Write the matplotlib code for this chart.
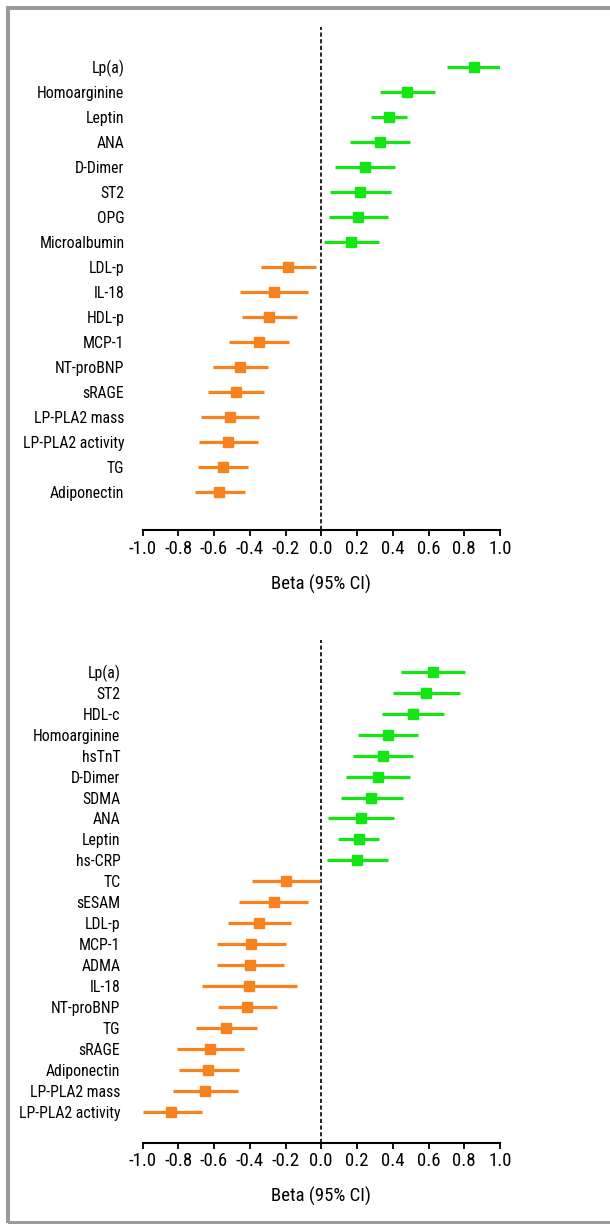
import matplotlib
matplotlib.use("Agg")
import matplotlib.pyplot as plt
from matplotlib.patches import Rectangle

plt.rcParams['font.family'] = ['Arial Narrow', 'Liberation Sans Narrow', 'Roboto Condensed',
                               'Archivo Narrow', 'PT Sans Narrow', 'Liberation Sans', 'DejaVu Sans']

GREEN = "#14e614"
ORANGE = "#f7821e"

# top panel
top_labels = ["Lp(a)", "Homoarginine", "Leptin", "ANA", "D-Dimer", "ST2", "OPG",
              "Microalbumin", "LDL-p", "IL-18", "HDL-p", "MCP-1", "NT-proBNP",
              "sRAGE", "LP-PLA2 mass", "LP-PLA2 activity", "TG", "Adiponectin"]
top_beta = [0.856, 0.479, 0.377, 0.328, 0.243, 0.218, 0.205, 0.164, -0.186, -0.263,
            -0.291, -0.351, -0.452, -0.479, -0.511, -0.519, -0.550, -0.571]
top_lo = [0.703, 0.330, 0.278, 0.159, 0.075, 0.049, 0.041, 0.013, -0.339, -0.453,
          -0.446, -0.515, -0.604, -0.634, -0.675, -0.683, -0.692, -0.709]
top_hi = [1.013, 0.634, 0.479, 0.498, 0.412, 0.392, 0.373, 0.321, -0.032, -0.074,
          -0.138, -0.183, -0.297, -0.319, -0.347, -0.354, -0.408, -0.427]

# bottom panel
bot_labels = ["Lp(a)", "ST2", "HDL-c", "Homoarginine", "hsTnT", "D-Dimer", "SDMA",
              "ANA", "Leptin", "hs-CRP", "TC", "sESAM", "LDL-p", "MCP-1", "ADMA",
              "IL-18", "NT-proBNP", "TG", "sRAGE", "Adiponectin", "LP-PLA2 mass",
              "LP-PLA2 activity"]
bot_beta = [0.625, 0.588, 0.513, 0.375, 0.343, 0.315, 0.280, 0.220, 0.209, 0.202,
            -0.198, -0.267, -0.347, -0.392, -0.398, -0.403, -0.416, -0.534, -0.622,
            -0.631, -0.650, -0.839]
bot_lo = [0.448, 0.399, 0.338, 0.207, 0.177, 0.136, 0.108, 0.037, 0.095, 0.034,
          -0.387, -0.459, -0.523, -0.583, -0.583, -0.668, -0.579, -0.702, -0.807,
          -0.796, -0.831, -0.999]
bot_hi = [0.806, 0.778, 0.689, 0.543, 0.511, 0.498, 0.455, 0.407, 0.323, 0.371,
          -0.006, -0.075, -0.168, -0.200, -0.209, -0.134, -0.250, -0.362, -0.430,
          -0.459, -0.465, -0.666]

xticks = [-1.0, -0.8, -0.6, -0.4, -0.2, 0.0, 0.2, 0.4, 0.6, 0.8, 1.0]

W, H = 610, 1224
fig = plt.figure(figsize=(W / 100, H / 100), dpi=100)

# gray frame around the figure
fig.patches.append(Rectangle((8 / W, 1 - 1223 / H), 1.0, (1223 - 8) / H,
                             transform=fig.transFigure, fill=False,
                             edgecolor="#9a9a9a", linewidth=2.9))


def forest(ax, labels, beta, lo, hi, ypad_top, ypad_bot, label_pad):
    n = len(labels)
    ys = list(range(n))
    for y, b, l, h in zip(ys, beta, lo, hi):
        c = GREEN if b > 0 else ORANGE
        ax.plot([l, h], [y, y], color=c, lw=2.3, solid_capstyle="butt", zorder=2)
        ax.plot(b, y, marker="s", ms=7.3, color=c, zorder=3)
    ax.axvline(0, color="black", lw=1.2, ls=(0, (2.5, 1.5)), zorder=1)
    ax.set_xlim(-1.0, 1.0)
    ax.set_ylim(n - 1 + ypad_bot, -ypad_top)
    ax.set_yticks(ys)
    ax.set_yticklabels(labels, fontsize=11.3)
    ax.tick_params(axis="y", length=0, pad=label_pad)
    ax.set_xticks(xticks)
    ax.set_xticklabels([f"{t:.1f}" for t in xticks], fontsize=13.5)
    ax.tick_params(axis="x", length=4, width=1.3, pad=3)
    for s in ["top", "right", "left"]:
        ax.spines[s].set_visible(False)
    ax.spines["bottom"].set_linewidth(1.5)
    ax.set_xlabel("Beta (95% CI)", fontsize=13.5, labelpad=12)


x0 = 142.5 / W
w = (500 - 142.5) / W

ax1 = fig.add_axes([x0, 1 - 530 / H, w, (530 - 27) / H])
forest(ax1, top_labels, top_beta, top_lo, top_hi, 1.59, 1.53, 13)

ax2 = fig.add_axes([x0, 1 - 1142.7 / H, w, (1142.7 - 640) / H])
forest(ax2, bot_labels, bot_beta, bot_lo, bot_hi, 1.51, 1.46, 16)

fig.savefig("out.png", dpi=100)
